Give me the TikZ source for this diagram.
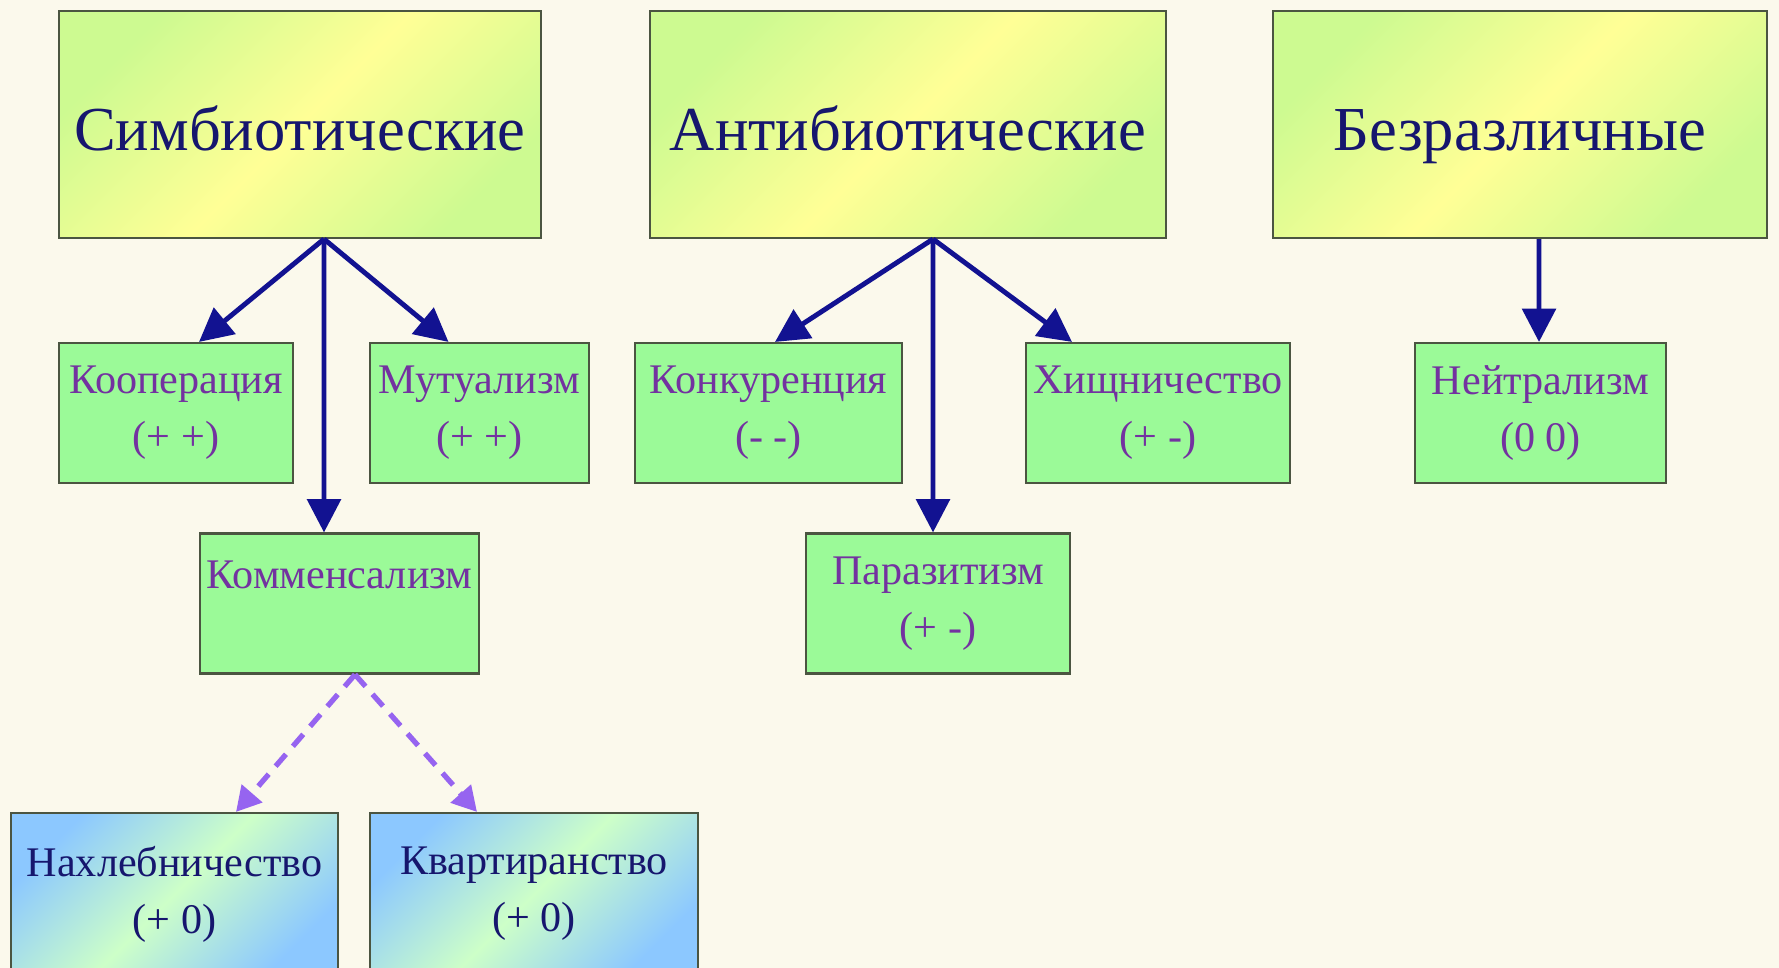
\documentclass[tikz,border=0pt]{standalone}
\usepackage{fontspec}
\setmainfont{Liberation Serif}
\usetikzlibrary{arrows.meta}

\definecolor{paper}{RGB}{251,249,236}
\definecolor{boxedge}{RGB}{75,85,65}
\definecolor{headtext}{RGB}{22,22,110}
\definecolor{subtext}{RGB}{115,50,160}
\definecolor{linktone}{RGB}{18,18,145}
\definecolor{dashtone}{RGB}{150,100,240}
\definecolor{headgreen}{RGB}{205,250,145}
\definecolor{headyellow}{RGB}{255,255,150}
\definecolor{kindgreen}{RGB}{155,250,152}
\definecolor{subblue}{RGB}{140,200,255}
\definecolor{subgreen}{RGB}{205,255,200}

\begin{document}
\begin{tikzpicture}[
  headbox/.style={shape=rectangle,draw=boxedge,line width=0.6pt,inner sep=0pt,
    minimum height=2.27cm,top color=headgreen,bottom color=headgreen,
    middle color=headyellow,shading angle=45,
    text=headtext,text height=19pt,text depth=4pt,
    font=\fontsize{17.8}{22}\selectfont},
  kindbox/.style={shape=rectangle,draw=boxedge,line width=0.6pt,inner sep=0pt,
    minimum height=1.40cm,fill=kindgreen,
    text=subtext,align=center,font=\fontsize{12}{16.2}\selectfont},
  subbox/.style={shape=rectangle,draw=boxedge,line width=0.6pt,inner sep=0pt,
    minimum height=1.62cm,top color=subblue,bottom color=subblue,
    middle color=subgreen,shading angle=45,
    text=headtext,align=center,font=\fontsize{12}{16.2}\selectfont},
  link/.style={draw=linktone,line width=1.4pt,-{Triangle[length=9.5pt,width=9.5pt]}},
  dashlink/.style={draw=dashtone,line width=1.5pt,dash pattern=on 4.5pt off 3pt,
    -{Triangle[length=7pt,width=7.5pt]}}]
% page
\fill[paper] (0,0) rectangle (17.79,-9.68);
\useasboundingbox (0,0) rectangle (17.79,-9.68);

% groups
\path (3.00,-1.245) node (symb) [headbox,minimum width=4.82cm] {Симбиотические};
\path (9.08,-1.245) node (anti) [headbox,minimum width=5.16cm] {Антибиотические};
\path (15.20,-1.245) node (bezr) [headbox,minimum width=4.94cm] {Безразличные};

% kinds
\path (1.76,-4.13) node (koop) [kindbox,minimum width=2.34cm] {Кооперация\\(+ +)};
\path (4.795,-4.13) node (mutu) [kindbox,minimum width=2.19cm] {Мутуализм\\(+ +)};
\path (7.685,-4.13) node (konk) [kindbox,minimum width=2.67cm] {Конкуренция\\(- -)};
\path (11.58,-4.13) node (hish) [kindbox,minimum width=2.64cm] {Хищничество\\(+ -)};
\path (15.405,-4.13) node (neit) [kindbox,minimum width=2.51cm] {Нейтрализм\\(0 0)};
\path (3.395,-6.035) node (komm) [kindbox,minimum width=2.79cm] {Комменсализм\\\mbox{}};
\path (9.38,-6.035) node (para) [kindbox,minimum width=2.64cm] {Паразитизм\\(+ -)};

% forms of commensalism
\path (1.745,-8.94) node (nakh) [subbox,minimum width=3.27cm] {Нахлебничество\\(+ 0)};
\path (5.34,-8.94) node (kvar) [subbox,minimum width=3.28cm] {Квартиранство\\(+ 0)};

\draw [link] ([xshift=2.4mm]symb.south) to ([xshift=2.3mm]koop.north);
\draw [link] ([xshift=2.4mm]symb.south) to ([xshift=-3.1mm]mutu.north);
\draw [link] ([xshift=2.4mm]symb.south) to ([xshift=-1.55mm]komm.north);
\draw [link] ([xshift=2.5mm]anti.south) to ([xshift=0.65mm]konk.north);
\draw [link] ([xshift=2.5mm]anti.south) to ([xshift=-8.6mm]hish.north);
\draw [link] ([xshift=2.5mm]anti.south) to ([xshift=-0.5mm]para.north);
\draw [link] ([xshift=1.9mm]bezr.south) to ([xshift=-0.15mm]neit.north);
\draw [dashlink] ([xshift=1.55mm]komm.south) to ([xshift=6.15mm]nakh.north);
\draw [dashlink] ([xshift=1.55mm]komm.south) to ([xshift=-5.7mm]kvar.north);
\end{tikzpicture}
\end{document}
